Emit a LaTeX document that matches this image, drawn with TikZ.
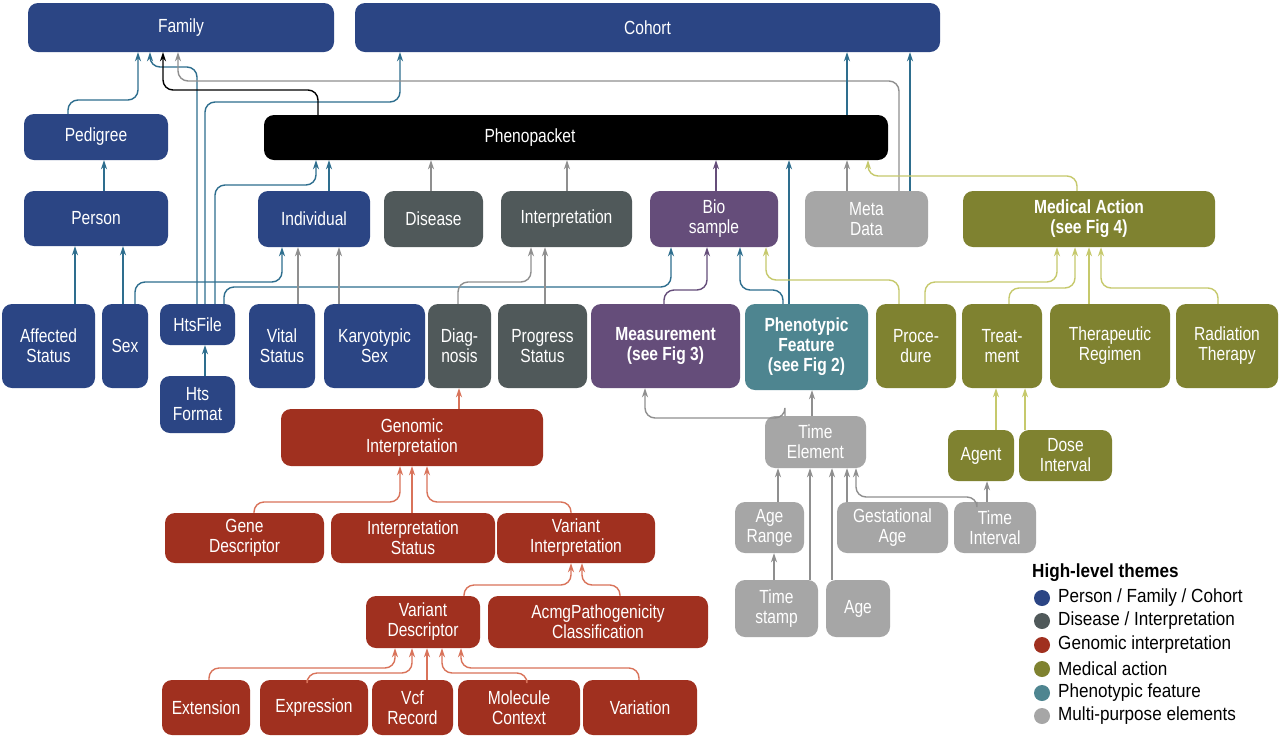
\documentclass[tikz,border=0pt]{standalone}
\usepackage{fontspec}
\setmainfont{Liberation Sans}[FakeStretch=0.82]
\newfontfamily\legfont{Liberation Sans}[FakeStretch=0.9]
\usetikzlibrary{arrows.meta}
\definecolor{cblue}{HTML}{2B4584}
\definecolor{cdgray}{HTML}{50595A}
\definecolor{cred}{HTML}{A0301F}
\definecolor{colive}{HTML}{7F8230}
\definecolor{cteal}{HTML}{4E8590}
\definecolor{clgray}{HTML}{A6A6A6}
\definecolor{cpurple}{HTML}{654D7A}
\definecolor{ablue}{HTML}{2E6E8E}
\definecolor{agray}{HTML}{8F8F8F}
\definecolor{aolive}{HTML}{C6C96C}
\definecolor{ared}{HTML}{D9735A}
\tikzset{
 bxs/.style={rounded corners=10pt,draw=none,text=white,inner sep=0pt,align=center,font=\fontsize{19}{20}\selectfont},
 conn/.style={line width=1.4pt,rounded corners=10pt,-{Stealth[length=9pt,width=6pt]}},
 cb/.style={conn,draw=ablue},
 cg/.style={conn,draw=agray},
 ck/.style={conn,draw=black},
 cp/.style={conn,draw=cpurple},
 co/.style={conn,draw=aolive},
 cr/.style={conn,draw=ared},
}
\newcommand\bx[7]{\node[bxs,fill=#6,minimum width={(#4-#2)*1pt},minimum height={(#5-#3)*1pt}] (#1) at ({(#2+#4)/2},{(#3+#5)/2}) {#7};}
\newcommand\up[6]{\draw[#1] (#3,0 |- #2.north) -- (#3,#4) -- (#5,#4) -- (#5,0 |- #6.south);}
\newcommand\st[4]{\draw[#1] (#3,0 |- #2.north) -- (#3,0 |- #4.south);}
\newcommand\legitem[4]{\fill[#2] (1042,#4) circle (8);
 \node[anchor=west,inner sep=0pt,font=\legfont\fontsize{19}{20}\selectfont] (#1) at (1058,#4) {#3};}
\begin{document}
\begin{tikzpicture}[x=1pt,y=-1pt]
\useasboundingbox[fill=white] (0,0) rectangle (1280,740);
\bx{family}{28}{3}{334}{52}{cblue}{Family}
\bx{cohort}{355}{3}{940}{52}{cblue}{Cohort}
\bx{pedigree}{24}{114}{168}{160}{cblue}{Pedigree}
\bx{person}{24}{191}{168}{246}{cblue}{Person}
\bx{pheno}{264}{115}{888}{160}{black}{}
\node[bxs] (phenotxt) at (530,138) {Phenopacket};
\bx{indiv}{258}{191}{370}{247}{cblue}{Individual}
\bx{disease}{384}{191}{483}{247}{cdgray}{Disease}
\bx{interp}{501}{191}{632}{247}{cdgray}{Interpretation}
\bx{bio}{650}{191}{778}{247}{cpurple}{Bio\\sample}
\bx{meta}{805}{191}{928}{247}{clgray}{Meta\\Data}
\bx{medact}{963}{191}{1215}{247}{colive}{\bfseries Medical Action\\\bfseries (see Fig 4)}
\bx{affected}{2}{304}{95}{388}{cblue}{Affected\\Status}
\bx{sex}{102}{304}{148}{388}{cblue}{Sex}
\bx{hts}{160}{304}{235}{345}{cblue}{HtsFile}
\bx{htsf}{160}{376}{235}{433}{cblue}{Hts\\Format}
\bx{vital}{249}{304}{315}{388}{cblue}{Vital\\Status}
\bx{karyo}{324}{304}{425}{388}{cblue}{Karyotypic\\Sex}
\bx{diag}{428}{304}{491}{388}{cdgray}{Diag-\\nosis}
\bx{prog}{498}{304}{587}{388}{cdgray}{Progress\\Status}
\bx{meas}{591}{304}{740}{388}{cpurple}{\bfseries Measurement\\\bfseries (see Fig 3)}
\bx{pf}{745}{304}{868}{390}{cteal}{\bfseries Phenotypic\\\bfseries Feature\\\bfseries (see Fig 2)}
\bx{proc}{876}{304}{956}{388}{colive}{Proce-\\dure}
\bx{treat}{962}{304}{1042}{388}{colive}{Treat-\\ment}
\bx{thera}{1050}{304}{1170}{388}{colive}{Therapeutic\\Regimen}
\bx{radia}{1176}{304}{1278}{388}{colive}{Radiation\\Therapy}
\bx{gi}{281}{409}{543}{466}{cred}{Genomic\\Interpretation}
\bx{gd}{165}{513}{324}{563}{cred}{Gene\\Descriptor}
\bx{is}{331}{513}{495}{563}{cred}{Interpretation\\Status}
\bx{vi}{497}{513}{655}{563}{cred}{Variant\\Interpretation}
\bx{vd}{366}{596}{480}{648}{cred}{Variant\\Descriptor}
\bx{acmg}{488}{596}{708}{648}{cred}{AcmgPathogenicity\\Classification}
\bx{ext}{162}{680}{250}{735}{cred}{Extension}
\bx{expr}{260}{680}{368}{735}{cred}{Expression}
\bx{vcf}{372}{680}{453}{735}{cred}{Vcf\\Record}
\bx{mol}{458}{680}{580}{735}{cred}{Molecule\\Context}
\bx{var}{583}{680}{697}{735}{cred}{Variation}
\bx{te}{765}{416}{866}{468}{clgray}{Time\\Element}
\bx{ar}{735}{502}{804}{553}{clgray}{Age\\Range}
\bx{ga}{837}{502}{948}{553}{clgray}{Gestational\\Age}
\bx{ti}{954}{502}{1036}{553}{clgray}{Time\\Interval}
\bx{ts}{735}{580}{818}{637}{clgray}{Time\\stamp}
\bx{age}{826}{580}{890}{637}{clgray}{Age}
\bx{agent}{948}{430}{1014}{481}{colive}{Agent}
\bx{dose}{1019}{430}{1112}{481}{colive}{Dose\\Interval}
% connectors to Family / Cohort
\up{cb}{pedigree}{68}{100}{138}{family}
\up{cb}{hts}{197}{67}{150}{family}
\up{cb}{hts}{205}{102}{400}{cohort}
\up{ck}{pheno}{318}{90}{163}{family}
\up{cg}{meta}{899}{81}{178}{family}
\st{cb}{pheno}{847}{cohort}
\st{cb}{meta}{910}{cohort}
% to Phenopacket
\up{cb}{hts}{215}{185}{316}{pheno}
\st{cb}{indiv}{329}{pheno}
\st{cg}{disease}{431}{pheno}
\st{cg}{interp}{567}{pheno}
\st{cp}{bio}{716}{pheno}
\st{cg}{meta}{847}{pheno}
\st{cb}{pf}{789}{pheno}
\up{co}{medact}{1077}{176}{868}{pheno}
% person branch
\st{cb}{person}{104}{pedigree}
\st{cb}{affected}{75}{person}
\st{cb}{sex}{123}{person}
\up{cb}{sex}{135}{282}{282}{indiv}
\st{cb}{htsf}{205}{hts}
\up{cb}{hts}{224}{287}{671}{bio}
\st{cg}{vital}{298}{indiv}
\st{cg}{karyo}{339}{indiv}
\up{cg}{diag}{458}{282}{531}{interp}
\st{cg}{prog}{545}{interp}
\up{cp}{meas}{664}{290}{707}{bio}
\up{cb}{pf}{783}{290}{740}{bio}
\up{co}{proc}{899}{280}{766}{bio}
\up{co}{proc}{925}{282}{1057}{medact}
\up{co}{treat}{1009}{288}{1075}{medact}
\st{co}{thera}{1089}{medact}
\up{co}{radia}{1218}{288}{1101}{medact}
\st{co}{agent}{996}{treat}
\st{co}{dose}{1025}{treat}
% genomic
\st{cr}{gi}{459}{diag}
\up{cr}{gd}{254}{502}{400}{gi}
\st{cr}{is}{412}{gi}
\up{cr}{vi}{571}{502}{427}{gi}
\up{cr}{vd}{464}{585}{571}{vi}
\up{cr}{acmg}{620}{585}{582}{vi}
\up{cr}{ext}{209}{668}{395}{vd}
\up{cr}{expr}{307}{673}{412}{vd}
\st{cr}{vcf}{427}{vd}
\up{cr}{mol}{527}{673}{442}{vd}
\up{cr}{var}{639}{668}{461}{vd}
% time
\draw[cg] (785,0 |- te.north) -- (785,418) -- (645,418) -- (645,0 |- meas.south);
\st{cg}{te}{812}{pf}
\st{cg}{ar}{778}{te}
\st{cg}{ts}{810}{te}
\st{cg}{age}{832}{te}
\st{cg}{ga}{847}{te}
\up{cg}{ti}{977}{497}{856}{te}
\st{cg}{ti}{987}{agent}
\st{cg}{ts}{774}{ar}
% legend
\node[anchor=west,inner sep=0pt,font=\legfont\bfseries\fontsize{19}{20}\selectfont] (legt) at (1032,573) {High-level themes};
\legitem{leg1}{cblue}{Person / Family / Cohort}{598}
\legitem{leg2}{cdgray}{Disease / Interpretation}{621}
\legitem{leg3}{cred}{Genomic interpretation}{645}
\legitem{leg4}{colive}{Medical action}{669}
\legitem{leg5}{cteal}{Phenotypic feature}{693}
\legitem{leg6}{clgray}{Multi-purpose elements}{716}
\end{tikzpicture}
\end{document}
